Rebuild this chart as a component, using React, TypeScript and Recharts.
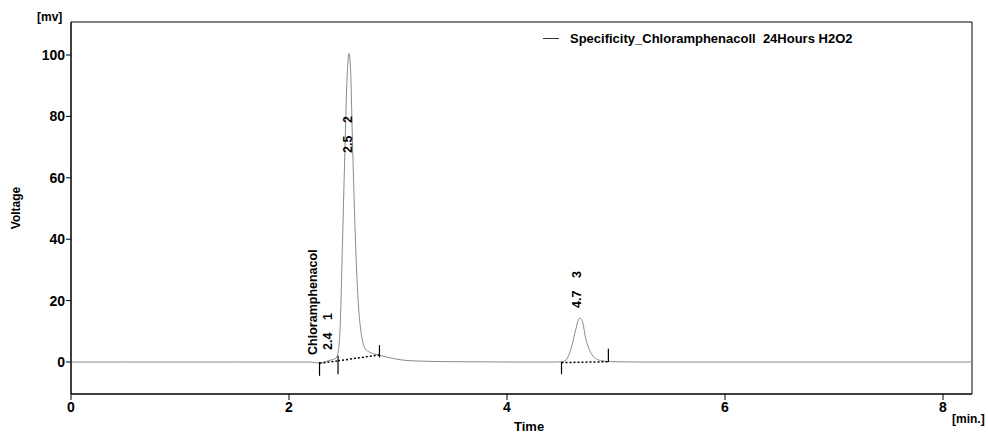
import React from 'react';
import { LineChart, Line, XAxis, YAxis, ReferenceLine, ReferenceDot, ReferenceArea } from 'recharts';

// chromatogram trace
const times = [
  0, 0.5, 1.0, 1.5, 2.0, 2.2, 2.26, 2.3, 2.35, 2.4, 2.43, 2.45, 2.47, 2.49, 2.51, 2.53, 2.55,
  2.565, 2.58, 2.6, 2.62, 2.64, 2.66, 2.68, 2.7, 2.74, 2.8, 2.85, 2.95, 3.05, 3.2, 3.5, 4.0,
  4.45, 4.5, 4.54, 4.57, 4.6, 4.63, 4.665, 4.69, 4.72, 4.75, 4.78, 4.82, 4.87, 4.95, 5.2, 6.0,
  7.0, 8.0, 8.266,
];
const voltages = [
  0, 0, 0, 0, 0, 0, -0.3, -0.2, 0.3, 0.8, 1.2, 3, 12, 38, 65, 90, 100.5,
  95, 75, 50, 30, 17, 10, 6, 4.3, 3.2, 2.5, 2.0, 1.2, 0.6, 0.3, 0.1, 0,
  0, 0.1, 0.6, 2.5, 6, 10.5, 14.3, 13.5, 8, 4.5, 2.3, 1, 0.4, 0.1, 0, 0,
  0, 0, 0,
];

const xTicks = [0, 2, 4, 6, 8];
const yTicks = [0, 20, 40, 60, 80, 100];

// integration events (start/end markers)
const eventTimes = [2.28, 2.45, 2.83, 4.5, 4.93];
const eventTop = [0, 2, 5.5, 0, 4.3];
const eventBottom = [-4.5, -4, 1.5, -4, 0];

// dotted integration baselines
const baselineTimes = [[2.28, 2.45], [2.45, 2.83], [4.5, 4.93]];
const baselineVolts = [[-0.4, 0.4], [0.4, 2.3], [-0.2, 0.1]];

// peak annotations
const peakRT = ['2.4', '2.5', '4.7'];
const peakNo = ['1', '2', '3'];
const peakLabelT = [2.358, 2.538, 4.642];
const peakLabelV = [3.9, 68.1, 17.6];
const compoundName = 'Chloramphenacol';
const compoundT = 2.22;
const compoundV = 2.3;

const FONT = "'Liberation Sans', Arial, sans-serif";

const VerticalText = ({ cx, cy, text, offset = 0 }: any) => (
  <text
    x={cx}
    y={cy}
    transform={`rotate(-90 ${cx} ${cy})`}
    dx={offset}
    dy="0.35em"
    fontSize={12.5}
    fontWeight="bold"
    fontFamily={FONT}
    fill="#000"
    textAnchor="start"
  >
    {text}
  </text>
);

export default function App() {
  const data = times.map((t, i) => ({ t, v: voltages[i] }));
  const xDomain = [0, 8.266];
  const yDomain = [-10.42, 110.75];

  return (
    <div style={{ position: 'absolute', left: 0, top: 0, width: 988, height: 434, background: '#fff', fontFamily: FONT }}>
      <LineChart width={988} height={434} data={data} margin={{ top: 22, right: 16, bottom: 10, left: 11 }}>
        <XAxis
          dataKey="t"
          type="number"
          domain={xDomain}
          ticks={xTicks}
          allowDataOverflow
          height={30}
          tickSize={6}
          axisLine={{ stroke: '#000' }}
          tickLine={{ stroke: '#000' }}
          tick={{ fill: '#000', fontSize: 14, fontWeight: 'bold', fontFamily: FONT }}
        />
        <YAxis
          type="number"
          domain={yDomain}
          ticks={yTicks}
          allowDataOverflow
          width={60}
          tickSize={5}
          tickMargin={1}
          axisLine={{ stroke: '#000' }}
          tickLine={{ stroke: '#000' }}
          tick={{ fill: '#000', fontSize: 14, fontWeight: 'bold', fontFamily: FONT }}
        />
        {/* plot frame */}
        <ReferenceArea
          x1={xDomain[0]}
          x2={xDomain[1]}
          y1={yDomain[0]}
          y2={yDomain[1]}
          fill="none"
          fillOpacity={0}
          stroke="#000"
          strokeWidth={1}
          ifOverflow="visible"
        />
        <Line
          dataKey="v"
          type="monotone"
          stroke="#8a8a8a"
          strokeWidth={1}
          dot={false}
          isAnimationActive={false}
        />
        {baselineTimes.map((ts, i) => (
          <ReferenceLine
            key={`bl-${i}`}
            segment={[
              { x: ts[0], y: baselineVolts[i][0] },
              { x: ts[1], y: baselineVolts[i][1] },
            ]}
            stroke="#000"
            strokeWidth={1.5}
            strokeDasharray="2 2"
            ifOverflow="visible"
          />
        ))}
        {eventTimes.map((t, i) => (
          <ReferenceLine
            key={`ev-${i}`}
            segment={[
              { x: t, y: eventBottom[i] },
              { x: t, y: eventTop[i] },
            ]}
            stroke="#000"
            strokeWidth={1.2}
            ifOverflow="visible"
          />
        ))}
        {peakRT.map((rt, i) => (
          <ReferenceDot
            key={`pk-${i}`}
            x={peakLabelT[i]}
            y={peakLabelV[i]}
            r={1}
            ifOverflow="visible"
            shape={(p: any) => (
              <g>
                <VerticalText cx={p.cx} cy={p.cy} text={rt} />
                <VerticalText cx={p.cx} cy={p.cy} text={peakNo[i]} offset={30} />
              </g>
            )}
          />
        ))}
        <ReferenceDot
          x={compoundT}
          y={compoundV}
          r={1}
          ifOverflow="visible"
          shape={(p: any) => <VerticalText cx={p.cx} cy={p.cy} text={compoundName} />}
        />
      </LineChart>

      <div style={{ position: 'absolute', left: 37, top: 10, fontSize: 12, fontWeight: 'bold' }}>[mv]</div>
      <div
        style={{
          position: 'absolute',
          left: 16,
          top: 208,
          fontSize: 12,
          fontWeight: 'bold',
          transform: 'translate(-50%, -50%) rotate(-90deg)',
          whiteSpace: 'nowrap',
        }}
      >
        Voltage
      </div>
      <div style={{ position: 'absolute', left: 514, top: 419, fontSize: 13, fontWeight: 'bold' }}>Time</div>
      <div style={{ position: 'absolute', left: 952, top: 412, fontSize: 12, fontWeight: 'bold' }}>[min.]</div>

      <div style={{ position: 'absolute', left: 543, top: 31, display: 'flex', alignItems: 'center' }}>
        <div style={{ width: 16, height: 1, background: '#333', marginRight: 11 }} />
        <span style={{ fontSize: 13, fontWeight: 'bold', whiteSpace: 'pre' }}>Specificity_Chloramphenacoll  24Hours H2O2</span>
      </div>
    </div>
  );
}
